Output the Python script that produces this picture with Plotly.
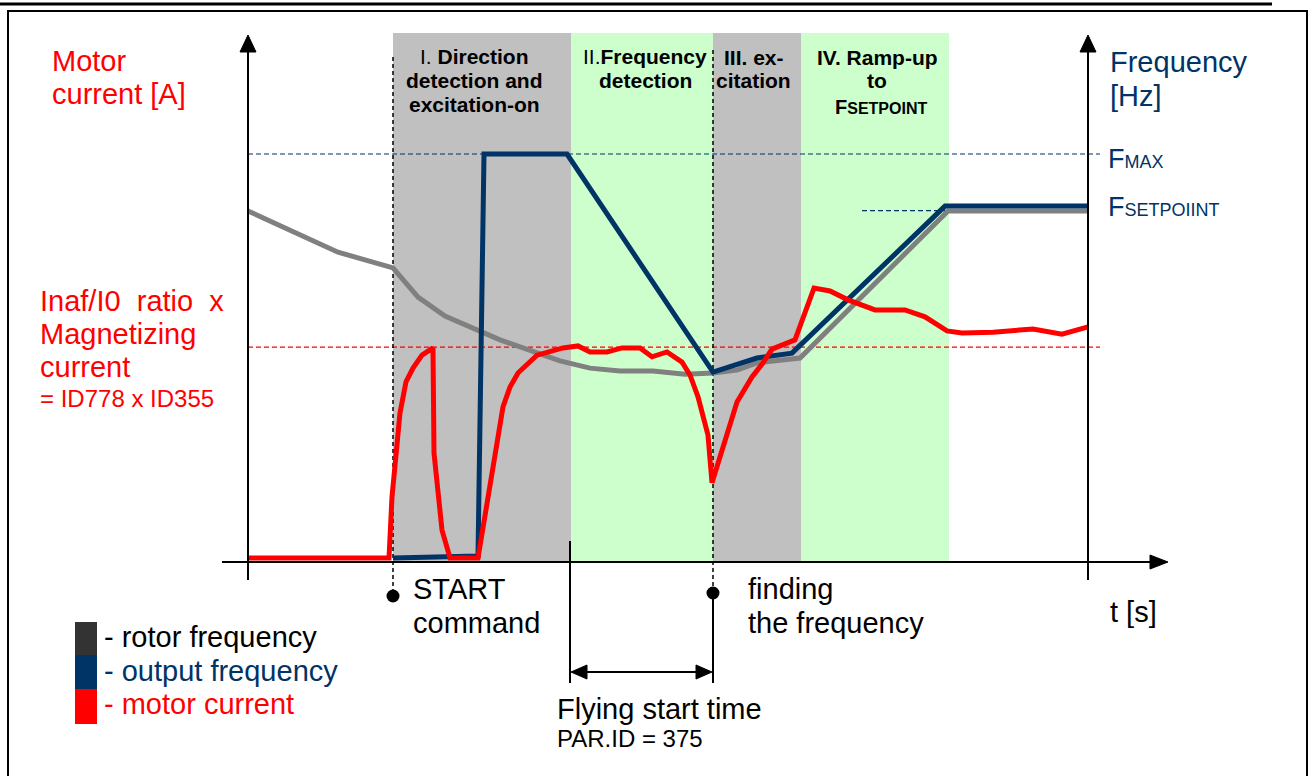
import plotly.graph_objects as go

# time in arbitrary units, levels in % of F_MAX
rotor_t = [0, 90, 145, 170, 197, 252, 312, 342, 372, 405, 437, 465, 489, 509, 552, 700, 840]
rotor_f = [85.9, 75.7, 71.8, 64.6, 59.9, 54.0, 48.8, 47.0, 46.3, 46.3, 45.5, 45.8, 46.5, 48.3, 49.5, 85.9, 85.9]

output_t = [145, 230, 236, 319, 465, 509, 544, 697, 840]
output_f = [0, 0.5, 100, 100, 46.0, 49.5, 50.7, 87.1, 87.1]

current_t = [0, 141, 144, 152, 158, 165, 174, 185, 186, 194, 202, 230, 255, 262, 270, 289, 315,
             330, 342, 359, 374, 392, 404, 419, 434, 442, 450, 460, 464, 489, 504, 515, 524,
             547, 566, 582, 600, 627, 657, 677, 699, 714, 745, 785, 814, 840]
current_i = [0, 0, 15.1, 35.9, 43.6, 47.0, 50.2, 52.0, 26.0, 6.9, 0, 0, 37.4, 42.3, 45.8, 50.2, 52.0,
             52.5, 51.0, 51.0, 52.0, 52.0, 49.8, 51.0, 48.5, 45.3, 39.9, 30.4, 18.6, 38.6, 44.8, 48.3, 51.7,
             54.0, 66.8, 66.1, 63.9, 61.4, 61.4, 59.7, 56.2, 55.7, 55.9, 56.7, 55.4, 57.2]

F_MAX = 100
F_SETPOINT = 86
I_MAGN = 52.2

phase_edges = [145, 323, 465, 553, 701]
phase_colors = ["#C0C0C0", "#CCFFCC", "#C0C0C0", "#CCFFCC"]

NAVY = "#003366"
RED = "#FF0000"
FONT = "Liberation Sans, Arial, sans-serif"


# page pixel -> axis units
def X(px):
    return px - 248


def Y(py):
    return (558 - py) / 4.04


shapes = []


def line(x0, y0, x1, y1, color="black", width=2, dash=None, layer="above"):
    shapes.append(dict(type="line", xref="x", yref="y", x0=X(x0), y0=Y(y0), x1=X(x1), y1=Y(y1),
                       line=dict(color=color, width=width, dash=dash), layer=layer))


def tri(pts):
    p = "M " + " L ".join(f"{X(a)},{Y(b)}" for a, b in pts) + " Z"
    shapes.append(dict(type="path", xref="x", yref="y", path=p, fillcolor="black",
                       line=dict(color="black", width=1)))


def box(x0, y0, x1, y1, fill, layer="below"):
    shapes.append(dict(type="rect", xref="x", yref="y", x0=X(x0), y0=Y(y0), x1=X(x1), y1=Y(y1),
                       fillcolor=fill, line=dict(width=0), layer=layer))


# phase shading
for i in range(4):
    shapes.append(dict(type="rect", xref="x", yref="y", x0=phase_edges[i], x1=phase_edges[i + 1],
                       y0=Y(562), y1=Y(33), fillcolor=phase_colors[i], line=dict(width=0), layer="below"))

# page frame
line(0, 4, 1272, 4, width=3)
shapes.append(dict(type="rect", xref="x", yref="y", x0=X(8), y0=Y(800), x1=X(1307), y1=Y(11),
                   line=dict(color="black", width=2), layer="below"))

# reference levels
shapes.append(dict(type="line", xref="x", yref="y", x0=0, x1=X(1100), y0=F_MAX, y1=F_MAX,
                   line=dict(color=NAVY, width=1.2, dash="5px,3px"), layer="below"))
shapes.append(dict(type="line", xref="x", yref="y", x0=X(862), x1=X(945), y0=F_SETPOINT, y1=F_SETPOINT,
                   line=dict(color=NAVY, width=1.2, dash="5px,3px"), layer="below"))
shapes.append(dict(type="line", xref="x", yref="y", x0=0, x1=X(1100), y0=I_MAGN, y1=I_MAGN,
                   line=dict(color=RED, width=1.2, dash="5px,3px"), layer="below"))

# event markers
shapes.append(dict(type="line", xref="x", yref="y", x0=phase_edges[0], x1=phase_edges[0], y0=Y(57), y1=Y(592),
                   line=dict(color="black", width=1.5, dash="4px,3px"), layer="below"))
shapes.append(dict(type="line", xref="x", yref="y", x0=phase_edges[2], x1=phase_edges[2], y0=Y(50), y1=Y(590),
                   line=dict(color="black", width=1.5, dash="4px,3px"), layer="below"))
shapes.append(dict(type="line", xref="x", yref="y", x0=phase_edges[1] - 1, x1=phase_edges[1] - 1, y0=Y(541), y1=Y(683),
                   line=dict(color="black", width=2)))
shapes.append(dict(type="line", xref="x", yref="y", x0=phase_edges[2], x1=phase_edges[2], y0=Y(596), y1=Y(683),
                   line=dict(color="black", width=2)))
for cx, cy in [(393, 596), (713, 593)]:
    shapes.append(dict(type="circle", xref="x", yref="y", x0=X(cx - 6.5), x1=X(cx + 6.5),
                       y0=Y(cy + 6.5), y1=Y(cy - 6.5), fillcolor="black", line=dict(width=0)))

# flying start time arrow
line(580, 672, 703, 672, width=2)
tri([(571, 672), (587, 665), (587, 679)])
tri([(712, 672), (696, 665), (696, 679)])

# axes
line(248, 48, 248, 580)
line(1088, 48, 1088, 580)
line(222, 562, 1152, 562)
tri([(248, 35), (240, 52), (256, 52)])
tri([(1088, 35), (1080, 52), (1096, 52)])
tri([(1168, 562), (1150, 555), (1150, 569)])

# legend swatches
box(75, 655, 97, 622, "#333333", layer="above")
box(75, 689, 97, 655, NAVY, layer="above")
box(75, 724, 97, 689, RED, layer="above")

fig = go.Figure()
fig.add_trace(go.Scatter(x=rotor_t, y=rotor_f, mode="lines", line=dict(color="#808080", width=5),
                         hoverinfo="skip"))
fig.add_trace(go.Scatter(x=output_t, y=output_f, mode="lines", line=dict(color=NAVY, width=5),
                         hoverinfo="skip"))
fig.add_trace(go.Scatter(x=current_t, y=current_i, mode="lines", line=dict(color=RED, width=5),
                         hoverinfo="skip"))

annotations = []


def text(px, baseline, s, size=29, color="black", anchor="left"):
    if anchor == "left":
        px -= 2
    annotations.append(dict(x=X(px), y=Y(baseline - 0.35 * size), xref="x", yref="y", text=s,
                            showarrow=False, xanchor=anchor, yanchor="middle",
                            font=dict(family=FONT, size=size, color=color)))


text(52, 71, "Motor", color=RED)
text(52, 104, "current [A]", color=RED)
text(1110, 72, "Frequency", color=NAVY)
text(1110, 106, "[Hz]", color=NAVY)
text(40, 311, "Inaf/I0\u00a0 ratio\u00a0 x", color=RED)
text(40, 344, "Magnetizing", color=RED)
text(40, 377, "current", color=RED)
text(40, 407, "= ID778 x ID355", size=24, color=RED)
text(1108, 168, "F<span style='font-size:18px'>MAX</span>", size=27, color=NAVY)
text(1108, 216, "F<span style='font-size:18px'>SETPOIINT</span>", size=27, color=NAVY)

text(474, 64, "I. <b>Direction</b>", size=21, anchor="center")
text(474, 88, "<b>detection and</b>", size=21, anchor="center")
text(474, 112, "<b>excitation-on</b>", size=21, anchor="center")
text(645, 64, "II.<b>Frequency</b>", size=21, anchor="center")
text(645, 88, "<b>detection</b>", size=21, anchor="center")
text(754, 65, "<b>III. ex-</b>", size=21, anchor="center")
text(753, 88, "<b>citation</b>", size=21, anchor="center")
text(877, 65, "<b>IV. Ramp-up</b>", size=21, anchor="center")
text(877, 88, "<b>to</b>", size=21, anchor="center")
text(881, 114, "<b>F<span style='font-size:16px'>SETPOINT</span></b>", size=20, anchor="center")

text(413, 599, "START")
text(413, 633, "command")
text(748, 599, "finding")
text(748, 633, "the frequency")
text(1110, 622, "t [s]")
text(557, 719, "Flying start time")
text(557, 747, "PAR.ID = 375", size=24)

text(104, 647, "- rotor frequency")
text(104, 681, "- output frequency", color=NAVY)
text(104, 714, "- motor current", color=RED)

fig.update_layout(
    width=1311, height=776,
    margin=dict(l=0, r=0, t=0, b=0),
    paper_bgcolor="white", plot_bgcolor="white",
    showlegend=False,
    xaxis=dict(range=[X(0), X(1311)], visible=False, fixedrange=True),
    yaxis=dict(range=[Y(776), Y(0)], visible=False, fixedrange=True),
    shapes=shapes,
    annotations=annotations,
)

# drop the default 8px body margin so the page pixels line up
fig.write_html("out.html", config={"displayModeBar": False},
               post_script="document.body.style.margin = '0px';")
